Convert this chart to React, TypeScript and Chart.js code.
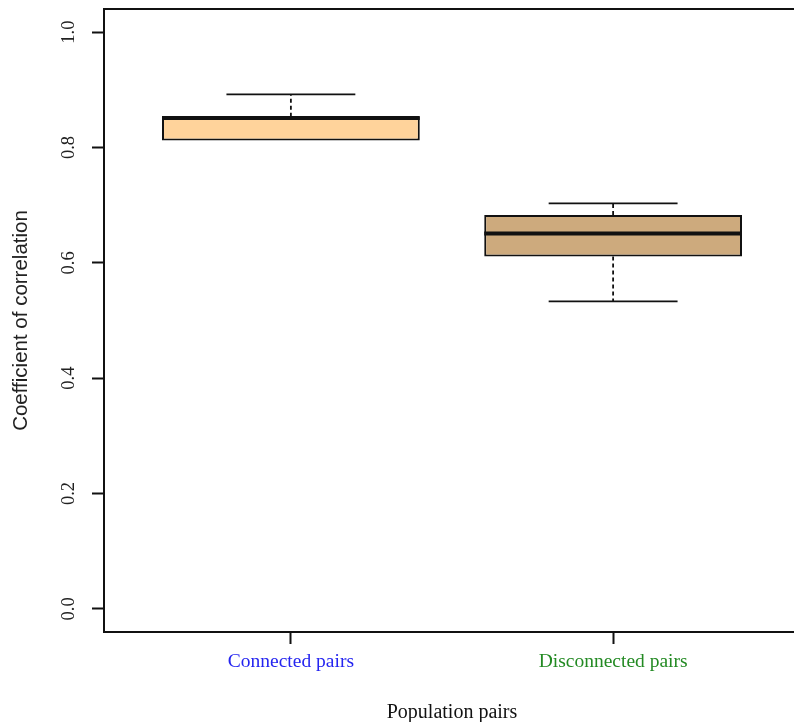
import React, { useEffect, useRef } from "react";
import { Chart, registerables } from "chart.js";

Chart.register(...registerables);

const categories = ["Connected pairs", "Disconnected pairs"];
const xPositions = [1, 2];
const whiskerLow = [0.812, 0.533];
const quartile1 = [0.812, 0.611];
const medians = [0.851, 0.651];
const quartile3 = [0.853, 0.683];
const whiskerHigh = [0.892, 0.703];
const boxColors = ["#FFD39B", "#CDAA7D"];
const labelColors = ["#2525f0", "#238a23"];
const yTicks = [0, 0.2, 0.4, 0.6, 0.8, 1.0];

const serif = '"Liberation Serif", "Times New Roman", serif';
const sans = '"Liberation Sans", Arial, sans-serif';

export default function App() {
  const ref = useRef<HTMLCanvasElement>(null);

  useEffect(() => {
    if (!ref.current) return;

    const boxExtras = {
      id: "boxExtras",
      afterDatasetsDraw(chart: any) {
        const { ctx } = chart;
        const x = chart.scales.x;
        const y = chart.scales.y;
        ctx.save();
        ctx.strokeStyle = "#111";
        categories.forEach((_, i) => {
          const cx = x.getPixelForValue(xPositions[i]);
          const halfBox = x.getPixelForValue(xPositions[i] + 0.4) - cx;
          const halfCap = halfBox / 2;
          const yQ1 = y.getPixelForValue(quartile1[i]);
          const yQ3 = y.getPixelForValue(quartile3[i]);
          const yHi = y.getPixelForValue(whiskerHigh[i]);
          const yLo = y.getPixelForValue(whiskerLow[i]);
          const yMed = y.getPixelForValue(medians[i]);

          ctx.lineWidth = 1.8;
          ctx.setLineDash([4, 3]);
          ctx.beginPath();
          if (whiskerHigh[i] > quartile3[i]) {
            ctx.moveTo(cx, yQ3);
            ctx.lineTo(cx, yHi);
          }
          if (whiskerLow[i] < quartile1[i]) {
            ctx.moveTo(cx, yQ1);
            ctx.lineTo(cx, yLo);
          }
          ctx.stroke();
          ctx.setLineDash([]);

          ctx.lineWidth = 1.8;
          ctx.beginPath();
          ctx.moveTo(cx - halfCap, yHi);
          ctx.lineTo(cx + halfCap, yHi);
          if (whiskerLow[i] < quartile1[i]) {
            ctx.moveTo(cx - halfCap, yLo);
            ctx.lineTo(cx + halfCap, yLo);
          }
          ctx.stroke();

          ctx.lineWidth = 4;
          ctx.beginPath();
          ctx.moveTo(cx - halfBox, yMed);
          ctx.lineTo(cx + halfBox, yMed);
          ctx.stroke();
        });
        const a = chart.chartArea;
        ctx.lineWidth = 2;
        ctx.strokeRect(a.left, a.top, a.right - a.left, a.bottom - a.top);
        ctx.restore();
      },
    };

    const chart = new Chart(ref.current, {
      type: "bar",
      data: {
        datasets: [
          {
            data: xPositions.map((xv, i) => ({ x: xv, y: [quartile1[i], quartile3[i]] })) as any,
            backgroundColor: boxColors,
            borderColor: "#111",
            borderWidth: 2,
            borderSkipped: false,
            barPercentage: 0.8,
            categoryPercentage: 1,
          },
        ],
      },
      options: {
        animation: false,
        responsive: false,
        layout: { padding: { left: 0, top: 9, right: 10, bottom: 0 } },
        plugins: { legend: { display: false }, tooltip: { enabled: false } },
        scales: {
          x: {
            type: "linear",
            min: 0.42,
            max: 2.58,
            offset: false,
            afterBuildTicks: (s: any) => {
              s.ticks = xPositions.map((v) => ({ value: v }));
            },
            afterFit: (s: any) => {
              s.height = 93;
              s.paddingLeft = 0;
              s.paddingRight = 0;
            },
            grid: {
              offset: false,
              drawOnChartArea: false,
              drawTicks: true,
              tickLength: 12,
              tickWidth: 2,
              tickColor: "#111",
              color: "#111",
            },
            border: { display: false },
            ticks: {
              callback: (v: any) => categories[xPositions.indexOf(Number(v))] ?? "",
              color: (c: any) => labelColors[c.index] ?? "#000",
              font: { family: serif, size: 19.5 },
              padding: 6,
              minRotation: 0,
              maxRotation: 0,
              autoSkip: false,
            },
            title: {
              display: true,
              text: "Population pairs",
              color: "#111",
              font: { family: serif, size: 20 },
              padding: { top: 0, bottom: 0 },
            },
          } as any,
          y: {
            type: "linear",
            min: -0.04,
            max: 1.04,
            afterBuildTicks: (s: any) => {
              s.ticks = yTicks.map((v) => ({ value: v }));
            },
            afterFit: (s: any) => {
              s.width = 104;
              s.paddingTop = 0;
              s.paddingBottom = 0;
            },
            grid: {
              drawOnChartArea: false,
              drawTicks: true,
              tickLength: 12,
              tickWidth: 2,
              tickColor: "#111",
              color: "#111",
            },
            border: { display: false },
            ticks: {
              callback: (v: any) => Number(v).toFixed(1),
              minRotation: 90,
              maxRotation: 90,
              crossAlign: "center",
              padding: 11,
              color: "#222",
              font: { family: serif, size: 18.5 },
            },
            title: {
              display: true,
              text: "Coefficient of correlation",
              color: "#222",
              font: { family: sans, size: 20.5 },
              padding: { top: 9, bottom: 0 },
            },
          } as any,
        },
      },
      plugins: [boxExtras],
    });
    return () => chart.destroy();
  }, []);

  return (
    <div
      style={{
        position: "fixed",
        left: 0,
        top: 0,
        width: 794,
        height: 722,
        overflow: "hidden",
        background: "#fff",
      }}
    >
      <canvas ref={ref} width={810} height={725} style={{ display: "block" }} />
    </div>
  );
}
